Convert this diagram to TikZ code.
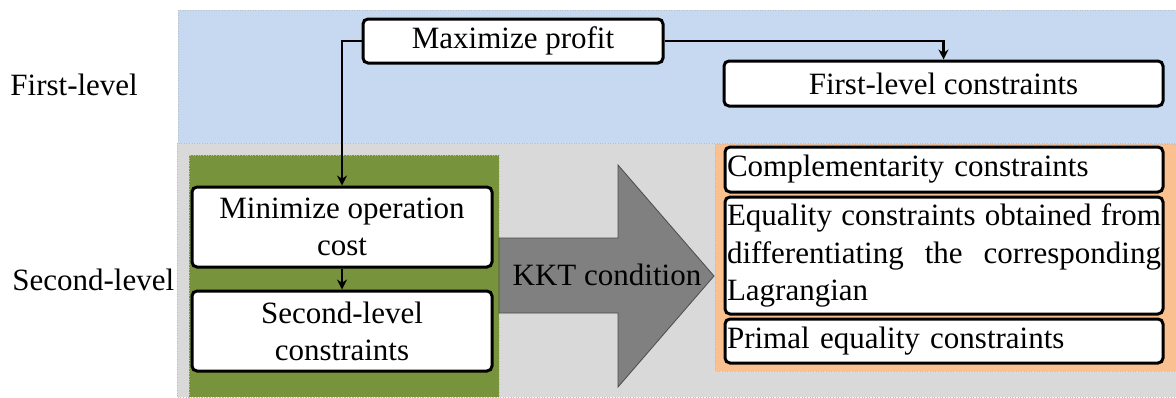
\documentclass[tikz,border=0pt]{standalone}
\usepackage{fontspec}
\setmainfont{Liberation Serif}
\usetikzlibrary{positioning, arrows.meta}
\definecolor{firstblue}{HTML}{C6D9F0}
\definecolor{secondgray}{HTML}{D9D9D9}
\definecolor{lowergreen}{HTML}{77933C}
\definecolor{kktorange}{HTML}{FAC090}
\tolerance=9999

\begin{document}
\begin{tikzpicture}[x=0.5pt, y=-0.5pt, >={Stealth[length=5pt, width=5pt]},
    font=\fontsize{15.5}{18.6}\selectfont,
    region/.style={draw=black!25, densely dotted, line width=0.3pt},
    level/.style={anchor=base west, inner sep=0pt},
    box/.style={draw, fill=white, line width=1.5pt, rounded corners=2.5pt, inner sep=1pt, align=center},
    rightbox/.style={box, text width=217pt, align=left},
    link/.style={->, line width=1.25pt}]
    \useasboundingbox (0,0) rectangle (1176,397);

    % levels
    \fill[firstblue, region] (178,10) rectangle (1176,143);
    \fill[secondgray, region] (177,143) rectangle (1176,397);
    \fill[lowergreen, region] (189,155) rectangle (499,397);
    \fill[kktorange, region] (715,144) rectangle (1176,371);

    \node[level] (first) at (10,95) {First-level};
    \node[level] (second) at (12,290) {Second-level};

    % first level
    \node[box, minimum width=150pt, minimum height=22pt] (maxprofit) at (513,41) {Maximize profit};
    \node[box, minimum width=219.5pt, minimum height=22.5pt] (firstcons) at (943.5,83.5) {First-level constraints};

    % second level
    \node[box, minimum width=150pt, minimum height=40pt] (mincost) at (342,227) {Minimize operation\\cost};
    \node[box, minimum width=150pt, minimum height=40pt] (seccons) at (342,331) {Second-level\\constraints};

    % KKT arrow
    \filldraw[fill=black!50, draw=black!70, line width=0.4pt]
        (499,238) -- (618,238) -- (618,165) -- (714,276) -- (618,387) -- (618,313) -- (499,313) -- cycle;
    \node[anchor=base] (kkt) at (607,285) {KKT condition};

    % single level
    \node[rightbox, minimum height=22.5pt] (compl) at (944,169.5) {Complementarity constraints};
    \node[rightbox, align=justify, minimum height=58.5pt] (equal) at (944,255.5) {Equality constraints obtained from differentiating the corresponding Lagrangian};
    \node[rightbox, minimum height=22pt] (primal) at (944,341) {Primal equality constraints};

    \draw[link] (maxprofit.west) -| (mincost.north);
    \draw[link] (maxprofit.east) -| (firstcons.north);
    \draw[link] (mincost) -- (seccons);
\end{tikzpicture}
\end{document}
